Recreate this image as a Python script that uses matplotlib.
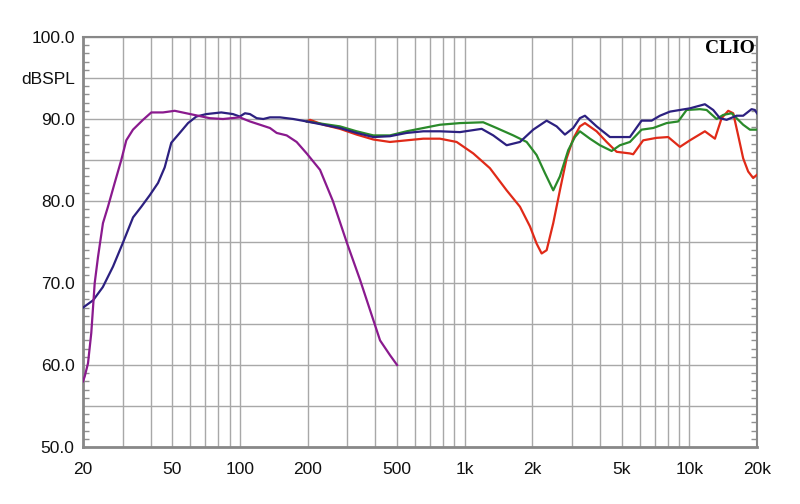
import matplotlib
matplotlib.use("Agg")
import matplotlib.pyplot as plt
from matplotlib.ticker import FixedLocator, NullFormatter

# ---- data ----
woofer_f = [20, 20.35, 21.05, 21.77, 22.55, 23.33, 24.54, 25.83, 27.67, 29.61, 31.17, 33.38,
            36.99, 40.28, 45.4, 51.18, 57.67, 65, 73.3, 83.97, 99.7, 110.7, 122.7, 135.9,
            145.6, 161.3, 178.6, 198, 227, 259, 299, 342, 379, 420, 465, 500]
woofer_db = [58.0, 58.6, 60.2, 63.9, 70.0, 73.2, 77.3, 79.3, 82.2, 85.0, 87.4, 88.7,
             89.9, 90.8, 90.8, 91.0, 90.7, 90.4, 90.1, 90.0, 90.2, 89.7, 89.3, 88.9,
             88.3, 88.0, 87.2, 85.8, 83.8, 80.0, 74.9, 70.4, 66.7, 63.0, 61.2, 60.0]

system_f = [20, 22.2, 24.5, 27.2, 30.1, 33.4, 36.35, 39.63, 43.15, 46.2, 49.43, 53.9, 58.68,
            63.9, 70.8, 82.5, 93, 99.7, 105.2, 110.7, 118.6, 126.9, 135.9, 150.6, 172.6, 198,
            234.7, 278.5, 330.4, 392, 464.8, 551.6, 654, 776, 952, 1190, 1340, 1537, 1762,
            2018, 2316, 2566, 2793, 3041, 3256, 3429, 3865, 4430, 5437, 6128, 6792, 7396,
            8194, 9076, 10056, 11726, 12770, 13676, 14650, 16223, 17358, 18915, 19572, 20000]
system_db = [67.0, 67.9, 69.5, 72.0, 74.9, 78.0, 79.3, 80.7, 82.2, 84.1, 87.1, 88.3, 89.5,
             90.3, 90.6, 90.8, 90.6, 90.3, 90.7, 90.6, 90.1, 90.0, 90.2, 90.2, 90.0, 89.7,
             89.3, 88.9, 88.3, 87.8, 87.9, 88.3, 88.5, 88.5, 88.4, 88.8, 88.0, 86.8, 87.2,
             88.7, 89.8, 89.1, 88.1, 88.9, 90.1, 90.4, 89.1, 87.8, 87.8, 89.8, 89.8, 90.4,
             90.9, 91.1, 91.3, 91.8, 91.1, 90.1, 89.9, 90.4, 90.4, 91.2, 91.1, 90.7]

green_f = [198, 234.7, 278.5, 330.4, 392, 464.8, 551.6, 654, 776, 952, 1209, 1387, 1645,
           1887, 2090, 2276, 2478, 2653, 2889, 3094, 3256, 3609, 3998, 4507, 4908, 5437,
           6128, 6904, 7917, 8917, 9720, 11138, 11935, 13222, 14149, 15418, 17358, 18598, 20000]
green_db = [89.7, 89.4, 89.1, 88.5, 88.0, 88.0, 88.5, 88.9, 89.3, 89.5, 89.6, 88.9, 88.0,
            87.2, 85.6, 83.4, 81.3, 83.0, 86.2, 87.8, 88.5, 87.6, 86.8, 86.1, 86.8, 87.2,
            88.7, 88.9, 89.5, 89.7, 91.1, 91.2, 91.1, 90.0, 90.5, 90.7, 89.3, 88.7, 88.7]

red_f = [198, 204.8, 234.7, 278.5, 330.4, 392, 464.8, 551.6, 654, 776, 920.6, 1092, 1295,
         1537, 1762, 1952, 2090, 2200, 2316, 2478, 2653, 2842, 3041, 3256, 3429, 3865, 4283,
         4745, 5437, 5622, 6229, 7150, 8048, 9076, 10056, 11726, 12995, 13917, 14891, 15676,
         16491, 17358, 18268, 19231, 20000]
red_db = [89.7, 89.9, 89.3, 88.8, 88.1, 87.5, 87.2, 87.4, 87.6, 87.6, 87.2, 85.8, 84.0,
          81.3, 79.3, 76.9, 74.8, 73.6, 74.0, 77.3, 81.3, 85.2, 87.6, 89.1, 89.5, 88.5, 87.2,
          86.0, 85.8, 85.7, 87.4, 87.7, 87.8, 86.6, 87.4, 88.5, 87.6, 90.1, 91.0, 90.7,
          88.0, 85.2, 83.6, 82.8, 83.2]

x_major = [20, 50, 100, 200, 500, 1000, 2000, 5000, 10000, 20000]
x_labels = ["20", "50", "100", "200", "500", "1k", "2k", "5k", "10k", "20k"]
y_major = [50, 55, 60, 65, 70, 75, 80, 85, 90, 95, 100]
y_labels = ["50.0", "", "60.0", "", "70.0", "", "80.0", "", "90.0", "dBSPL", "100.0"]

# ---- figure ----
plt.rcParams['font.family'] = ['Liberation Sans', 'DejaVu Sans']
fig = plt.figure(figsize=(8.0, 5.04), dpi=100)
ax = fig.add_axes([83 / 800, 57 / 504, 674 / 800, 410 / 504])

lw = 1.6
ax.plot(red_f, red_db, color="#e02a18", lw=lw, zorder=3)
ax.plot(green_f, green_db, color="#2a8a2a", lw=lw, zorder=4)
ax.plot(system_f, system_db, color="#2c2080", lw=lw, zorder=5)
ax.plot(woofer_f, woofer_db, color="#8a1a8e", lw=lw, zorder=6)

ax.set_xscale("log")
ax.set_xlim(20, 20000)
ax.set_ylim(50, 100)

minor_x = [m * d for d in (10, 100, 1000) for m in range(2, 10)] + [10000 * m for m in range(1, 3)]
minor_x = [v for v in minor_x if 20 <= v <= 20000 and v not in x_major]
ax.xaxis.set_major_locator(FixedLocator(x_major))
ax.set_xticklabels(x_labels)
ax.xaxis.set_minor_locator(FixedLocator(minor_x))
ax.xaxis.set_minor_formatter(NullFormatter())
ax.tick_params(axis="x", which="both", length=0, pad=11, labelsize=12.5, colors="#111111")

ax.yaxis.set_major_locator(FixedLocator(y_major))
ax.set_yticklabels(y_labels)
ax.yaxis.set_minor_locator(FixedLocator(list(range(50, 101))))
ax.tick_params(axis="y", which="major", length=0, pad=6, labelsize=12.5, colors="#111111")
ax.tick_params(axis="y", which="minor", direction="in", length=4, width=1,
               color="#909090", left=True, right=True)

ax.grid(True, which="major", axis="y", color="#a8a8a8", lw=1)
ax.grid(True, which="both", axis="x", color="#a8a8a8", lw=1)
ax.set_axisbelow(True)

for side, sp in ax.spines.items():
    sp.set_color("#888888")
    sp.set_linewidth(2.0 if side in ("left", "bottom") else 1.5)

ax.text(0.997, 0.993, "CLIO", transform=ax.transAxes, ha="right", va="top",
        fontsize=14, fontweight="bold", family=["Liberation Serif", "DejaVu Serif"], zorder=10)

fig.savefig("out.png", dpi=100, facecolor="white")
